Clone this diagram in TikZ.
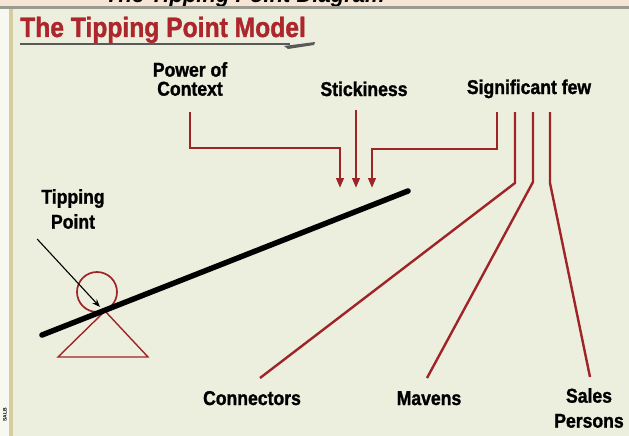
\documentclass[tikz,border=0pt]{standalone}
\usepackage{fontspec}
\setmainfont{Liberation Sans}
\newfontfamily\heavy[FakeStretch=0.88,FakeBold=1.3]{Liberation Sans}
\usetikzlibrary{arrows.meta}
\definecolor{bg}{RGB}{237,239,222}
\definecolor{peach}{RGB}{246,228,213}
\definecolor{khaki}{RGB}{212,206,158}
\definecolor{dred}{RGB}{158,36,40}
\definecolor{tred}{RGB}{172,38,44}
\begin{document}
\begin{tikzpicture}[x=1pt,y=-1pt,
  lbl/.style={font=\heavy\bfseries\fontsize{20}{19}\selectfont, inner sep=0pt, align=center, text=black},
  lbltall/.style={lbl, font=\heavy\bfseries\fontsize{20}{25}\selectfont},
  rl/.style={draw=dred, line width=2.4pt},
  ar/.style={rl, -{Triangle[length=10pt,width=7.5pt]}}]
\useasboundingbox (0,0) rectangle (629,436);
\fill[bg] (0,0) rectangle (629,436);
% top band with cut-off heading
\fill[peach] (0,0) rectangle (629,6);
\begin{scope}
  \clip (0,0) rectangle (629,6);
  \node[anchor=base west, inner sep=0pt, font=\bfseries\itshape\fontsize{22}{22}\selectfont] (cut) at (105,3) {The Tipping Point Diagram};
\end{scope}
\fill[black!35!bg] (0,6) rectangle (629,9);
% left border
\fill[white!55!bg] (0,9) rectangle (9,436);
\fill[khaki] (9,9) rectangle (13,436);
\node[rotate=90, font=\bfseries\fontsize{5}{5}\selectfont, inner sep=0pt] (sig0) at (5,415) {SALB};
% title
\node[anchor=base west, inner sep=0pt, text=tred, font=\heavy\bfseries\fontsize{28}{28}\selectfont] (title) at (20,37) {The Tipping Point Model};
\draw[line width=2pt, black!65] (title.base west |- 0,44) -- (290,44);
\fill[black!65] (284,46) -- (315,42) -- (314,45) -- (288,49) -- cycle;
% labels
\node[lbl] (poc) at (190,79) {Power of\\Context};
\node[lbl, anchor=base] (stick) at (364,96) {Stickiness};
\node[lbl, anchor=base] (sig) at (529,94) {Significant few};
\node[lbltall] (tp) at (73,209) {Tipping\\Point};
\node[lbl, anchor=base] (con) at (252,405) {Connectors};
\node[lbl, anchor=base] (mav) at (429,405) {Mavens};
\node[lbltall] (sal) at (589,408) {Sales\\Persons};
% connector points
\coordinate (a1) at (340,188);
\coordinate (a2) at (356,188);
\coordinate (a3) at (372,188);
\coordinate (s1) at (497,112);
\coordinate (s2) at (515,112);
\coordinate (s3) at (533,112);
\coordinate (s4) at (550,112);
\coordinate (e1) at (260,378);
\coordinate (e2) at (427,378);
\coordinate (e3) at (590,377);
% arrows into the beam
\draw[ar] (poc.south |- 0,112) -- (poc.south |- 0,148) -| (a1);
\draw[ar] (stick.south -| a2) ++(0,14) -- (a2);
\draw[ar] (s1) -- (s1 |- 0,149) -| (a3);
% lines to the significant few
\draw[rl] (s2) -- (515,183) -- (e1);
\draw[rl] (s3) -- (533,182) -- (e2);
\draw[rl] (s4) -- (550,183) -- (e3);
% lever
\coordinate (piv) at (105,311);
\draw[draw=dred, line width=1.4pt, line join=miter] (piv) -- (58,357) -- (148,357) -- cycle;
\draw[draw=dred, line width=1.7pt] (97,292) circle[radius=20];
\draw[line width=5.5pt, line cap=round] (42,335) -- (408,191);
\coordinate (tpt) at (100,307);
\draw[black, line width=1.1pt, -{Stealth[length=8pt,width=6pt]}] ([xshift=-4pt,yshift=-10pt]tp.south west) -- (tpt);
\end{tikzpicture}
\end{document}
